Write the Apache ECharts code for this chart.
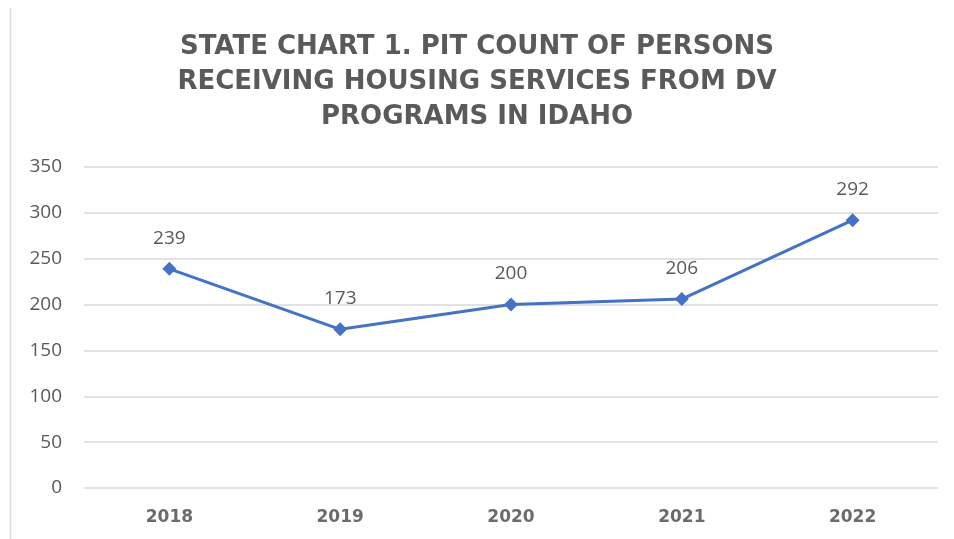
<!DOCTYPE html>
<html><head><meta charset="utf-8">
<script src="https://cdn.jsdelivr.net/npm/echarts@6/dist/echarts.min.js"></script>
<style>html,body{margin:0;padding:0;background:#fff}#c{width:954px;height:539px}</style>
</head><body><div id="c"></div>
<script>
const categories = ['2018', '2019', '2020', '2021', '2022'];
const values = [239, 173, 200, 206, 292];
const titleText = 'STATE CHART 1. PIT COUNT OF PERSONS\nRECEIVING HOUSING SERVICES FROM DV\nPROGRAMS IN IDAHO';

const chart = echarts.init(document.getElementById('c'));
chart.setOption({
  backgroundColor: '#fff',
  animation: false,
  title: {
    text: titleText,
    left: 'center',
    top: 25,
    textStyle: {
      fontFamily: 'DejaVu Sans',
      fontWeight: 'bold',
      fontSize: 26,
      color: '#5a5a5a',
      lineHeight: 35
    }
  },
  graphic: [{
    type: 'line',
    shape: { x1: 10.5, y1: 8, x2: 10.5, y2: 539 },
    style: { stroke: '#dcdcdc', lineWidth: 1.5 }
  }],
  grid: { left: 84, right: 16, top: 167, bottom: 51, containLabel: false },
  xAxis: {
    type: 'category',
    data: categories,
    boundaryGap: true,
    axisLine: { show: false },
    axisTick: { show: false },
    axisLabel: {
      margin: 21,
      fontFamily: 'DejaVu Sans',
      fontWeight: 'bold',
      fontSize: 17,
      color: '#6b6b6b'
    }
  },
  yAxis: {
    type: 'value',
    min: 0, max: 350, interval: 50,
    axisLine: { show: false },
    axisTick: { show: false },
    splitLine: { lineStyle: { color: '#d9d9d9', width: 1.5 } },
    axisLabel: {
      margin: 22,
      fontFamily: 'Open Sans',
      fontSize: 19,
      color: '#595959'
    }
  },
  series: [{
    type: 'line',
    data: values,
    symbol: 'diamond',
    symbolSize: 14,
    lineStyle: { color: '#4472C4', width: 3 },
    itemStyle: { color: '#4472C4' },
    label: {
      show: true,
      position: 'top',
      distance: 14,
      fontFamily: 'Open Sans',
      fontSize: 19,
      color: '#595959'
    }
  }]
});
</script></body></html>
